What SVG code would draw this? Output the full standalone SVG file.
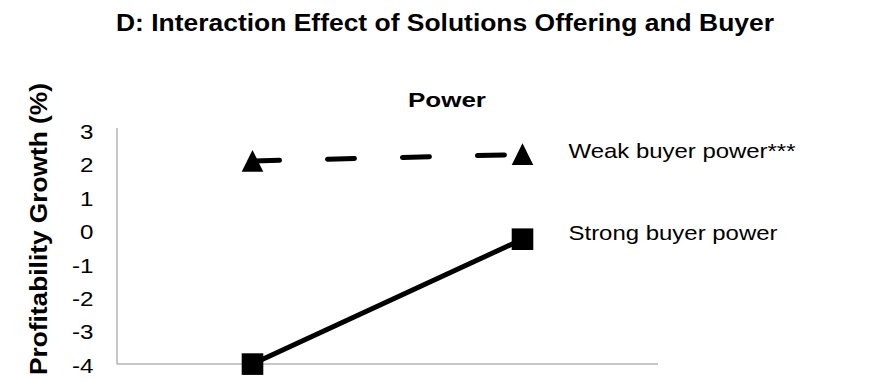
<svg xmlns="http://www.w3.org/2000/svg" width="890" height="380" viewBox="0 0 890 380">
<style>
.t{font-family:"Liberation Sans",Arial,sans-serif;fill:#000}
.b{font-weight:bold}
.axis{stroke:#b3b3b3;stroke-width:1.5;fill:none}
.ln{stroke:#000;stroke-width:5;fill:none;stroke-linecap:round}
</style>
<rect width="890" height="380" fill="#fff"/>
<text class="t b" x="116" y="30.5" font-size="23" textLength="658" lengthAdjust="spacingAndGlyphs">D: Interaction Effect of Solutions Offering and Buyer</text>
<text class="t b" x="408" y="106.7" font-size="21" textLength="78" lengthAdjust="spacingAndGlyphs">Power</text>
<text class="t b" transform="translate(46.5,229) rotate(-90)" text-anchor="middle" font-size="23" textLength="292" lengthAdjust="spacingAndGlyphs">Profitability Growth (%)</text>
<g id="ticks" class="t" font-size="21" text-anchor="end">
<g transform="translate(93.5,0) scale(1.15,1)">
<text x="0" y="139">3</text>
<text x="0" y="172.4">2</text>
<text x="0" y="205.8">1</text>
<text x="0" y="239.2">0</text>
<text x="0" y="272.6">-1</text>
<text x="0" y="306">-2</text>
<text x="0" y="339.4">-3</text>
<text x="0" y="372.8">-4</text>
</g>
</g>
<g id="axes">
<line class="axis" x1="117" y1="128" x2="117" y2="364"/>
<line class="axis" x1="117" y1="364" x2="658" y2="364"/>
</g>
<g id="connectors">
<line class="ln" x1="252.5" y1="161" x2="522.5" y2="154.5" stroke-dasharray="27 48"/>
<line class="ln" x1="252.5" y1="364" x2="522.5" y2="239.2"/>
</g>
<g id="weak-left"><polygon points="252.5,150 241.7,171.7 263.3,171.7" fill="#000"/></g>
<g id="weak-right"><polygon points="522.5,143.3 511.7,165 533.3,165" fill="#000"/></g>
<g id="strong-left"><rect x="241.7" y="353.3" width="21.6" height="21.6" fill="#000"/></g>
<g id="strong-right"><rect x="511.7" y="228.4" width="21.6" height="21.6" fill="#000"/></g>
<g id="legend-weak"><text class="t" x="568.5" y="158.3" font-size="21" textLength="227" lengthAdjust="spacingAndGlyphs">Weak buyer power***</text></g>
<g id="legend-strong"><text class="t" x="568.5" y="240" font-size="21" textLength="209" lengthAdjust="spacingAndGlyphs">Strong buyer power</text></g>
</svg>
